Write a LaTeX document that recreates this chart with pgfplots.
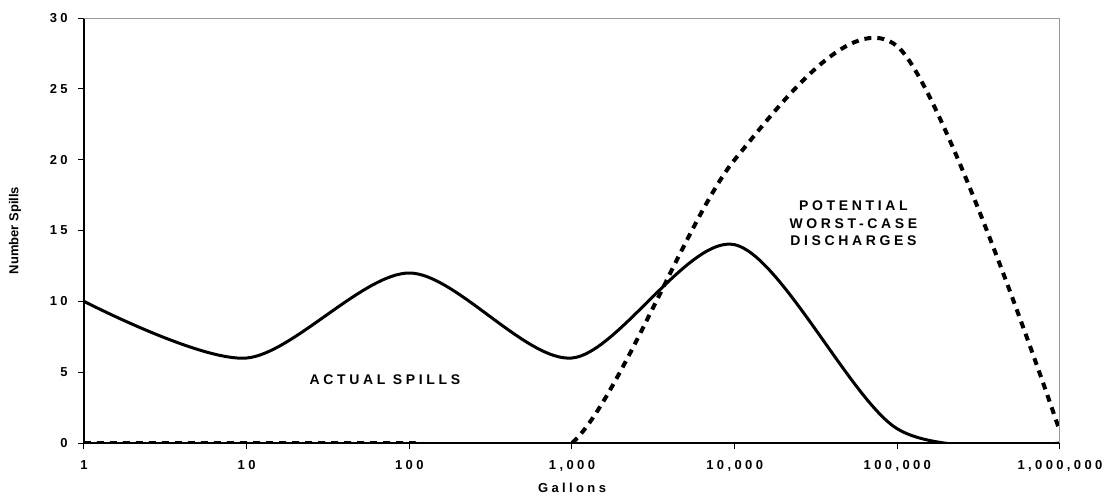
\documentclass[border=0pt]{standalone}
\usepackage{fontspec}
\setmainfont{Liberation Sans}
\newfontfamily\spaced[LetterSpace=26]{Liberation Sans}
\usepackage{pgfplots}
\pgfplotsset{compat=1.18}
\begin{document}
\begin{tikzpicture}
\useasboundingbox (-42pt,-26pt) rectangle (512pt,221.5pt);
\begin{axis}[
  at={(0pt,0pt)}, anchor=south west,
  scale only axis, width=488pt, height=212.5pt,
  xmin=0, xmax=6, ymin=0, ymax=30,
  enlargelimits=false,
  axis x line*=bottom, axis y line*=left,
  axis line style={-, black, line width=0.6pt},
  xtick={0,1,2,3,4,5,6},
  xticklabels={1,10,100,{1,000},{10,000},{100,000},{1,000,000}},
  ytick={0,5,10,15,20,25,30},
  yticklabels={0,5,10,15,20,25,30},
  tick align=outside, major tick length=3pt,
  tick style={black, line width=0.5pt},
  ticklabel style={font=\fontsize{6.5}{7}\selectfont\spaced\bfseries, inner sep=0pt},
  xticklabel style={anchor=north},
  yticklabel style={anchor=east},
  xticklabel shift=5.5pt,
  yticklabel shift=5pt,
  xlabel={Gallons},
  ylabel={Number Spills},
  xlabel style={font=\fontsize{6.5}{7}\selectfont\spaced\bfseries, at={(axis description cs:0.5,-0.106)}, anchor=center},
  ylabel style={font=\fontsize{6.5}{7}\selectfont\bfseries, at={(axis description cs:-0.0707,0.5)}, anchor=center},
  clip=true,
]
\addplot[black, line width=1.5pt, smooth, tension=0.5] coordinates {(0,10) (1,6) (2,12) (3,6) (4,14) (5,1) (6,0)};
\addplot[black, line width=2pt, dash pattern=on 3.5pt off 3pt, smooth, tension=0.5] coordinates {(0,0) (1,0) (2,0) (3,0) (4,20) (5,28) (6,0.8)};
\draw[gray!80, line width=0.6pt] (rel axis cs:0,1) -- (rel axis cs:1,1) -- (rel axis cs:1,0);
\node[font=\fontsize{7}{8}\selectfont\spaced\bfseries] at (axis cs:1.85,4.5) {ACTUAL SPILLS};
\node[font=\fontsize{7}{8.75}\selectfont\spaced\bfseries, align=center] at (axis cs:4.73,15.5) {POTENTIAL\\WORST-CASE\\DISCHARGES};
\end{axis}
\end{tikzpicture}
\end{document}
